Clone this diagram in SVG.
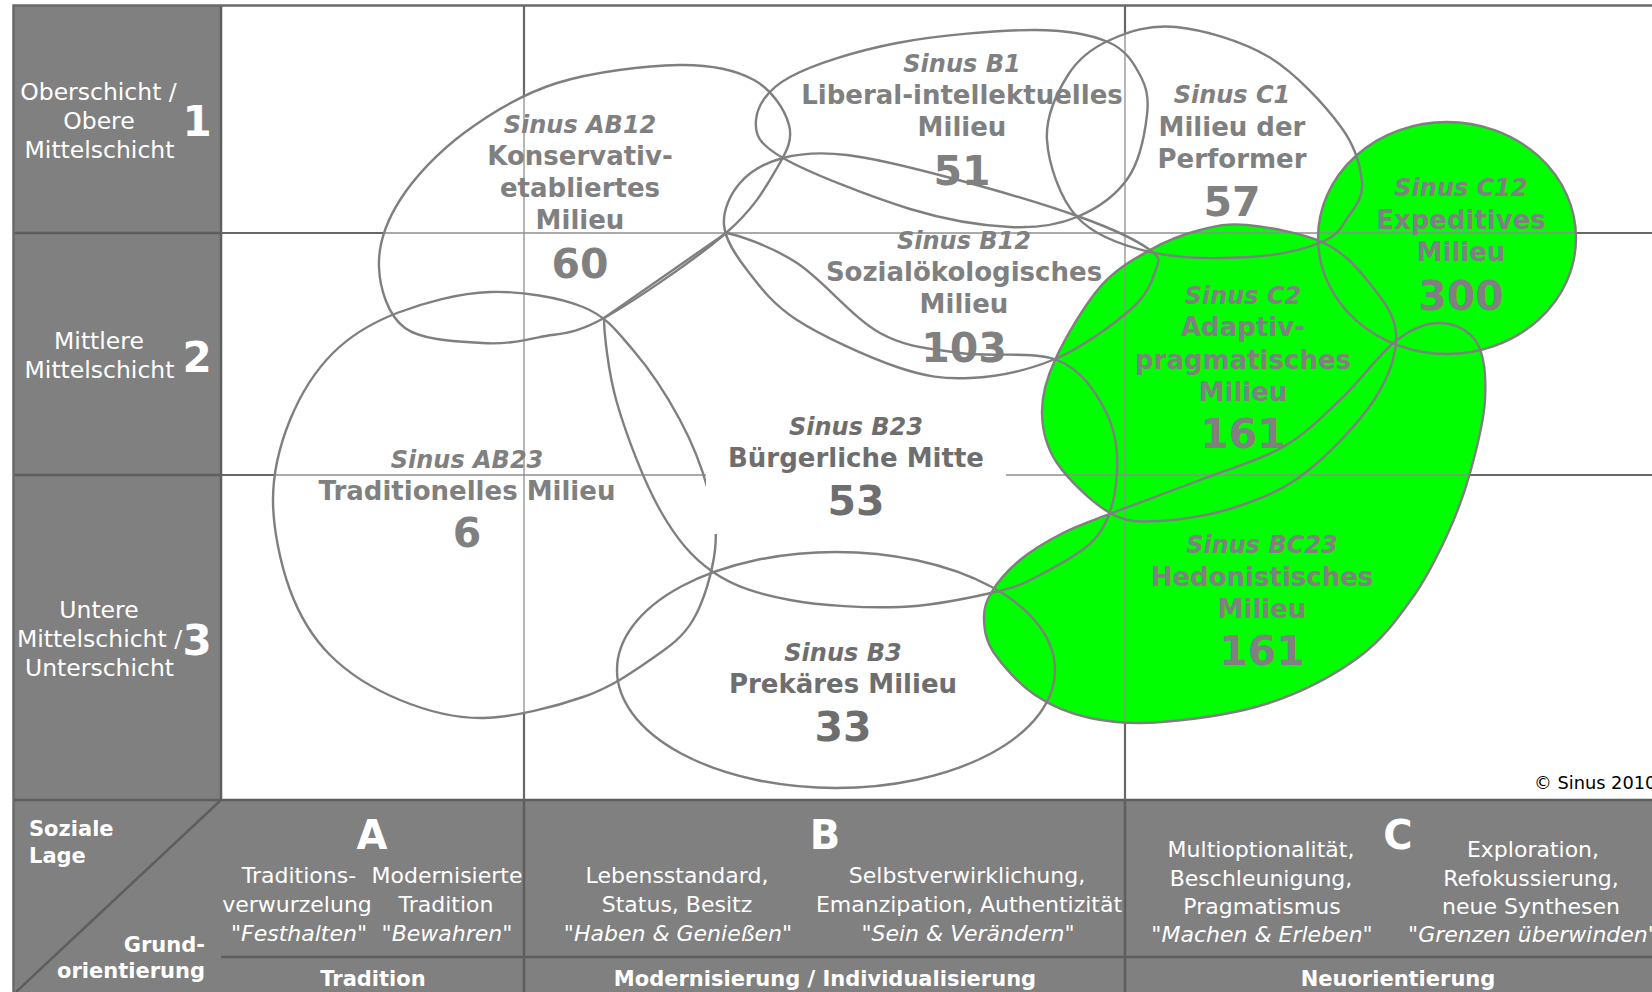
<svg xmlns="http://www.w3.org/2000/svg" width="1652" height="992" viewBox="0 0 1652 992">
<style>
.ol{fill:none;stroke:#7f7f7f;stroke-width:2.4}
.gf{fill:#00ff00;stroke:none}
.t{font-family:"DejaVu Sans",Verdana,sans-serif;text-anchor:middle}
.it{font-weight:bold;font-style:italic;font-size:24px;fill:#808080}
.nm{font-weight:bold;font-size:26px;fill:#808080}
.num{font-weight:bold;font-size:41px;fill:#808080}
.dk{fill:#6e6e6e}
.lbl{font-size:23.5px;fill:#fff}
.dig{font-weight:bold;font-size:42px;fill:#fff}
.bt{font-size:22px;fill:#fff}
.bi{font-size:22px;font-style:italic;fill:#fff}
.bb{font-size:21px;font-weight:bold;fill:#fff}
.let{font-size:40px;font-weight:bold;fill:#fff}
.gd{stroke:#676767;stroke-width:2.2;fill:none}
.ge{stroke:#fff;stroke-width:5;fill:none}
.gl{stroke:#8f8f8f;stroke-width:1.3;fill:none}
.pd{stroke:#5e5e5e;stroke-width:2.5;fill:none}
</style>
<defs>
<path id="gridpath" d="M221,233H1652M221,475H1652M524,5V800M1125,5V800"/>
<path id="p-ab12" d="M379,267 C378.2,245.7 385.8,222.3 400,200 C414.2,177.7 437.8,152.5 464,133 C490.2,113.5 521.2,94.3 557,83 C592.8,71.7 646.2,65.5 679,65 C711.8,64.5 735.7,70 754,80 C772.3,90 785.2,110.3 789,125 C792.8,139.7 787.5,150 777,168 C766.5,186 754.8,208 726,233 C697.2,258 635,300.7 604,318 C573,335.3 560.3,332.8 540,337 C519.7,341.2 504.5,344.5 482,343 C459.5,341.5 422.2,340.7 405,328 C387.8,315.3 379.8,288.3 379,267 Z"/>
<path id="p-b1" d="M756,120 C757.2,106.5 766.5,89.8 790,77 C813.5,64.2 856.5,50.8 897,43 C937.5,35.2 997.8,30.2 1033,30 C1068.2,29.8 1090.2,34.5 1108,42 C1125.8,49.5 1133.5,62.8 1140,75 C1146.5,87.2 1149,97.8 1147,115 C1145,132.2 1139.7,161 1128,178 C1116.3,195 1096.7,208.8 1077,217 C1057.3,225.2 1037.8,228.3 1010,227 C982.2,225.7 947.8,220.5 910,209 C872.2,197.5 808.7,172.8 783,158 C757.3,143.2 754.8,133.5 756,120 Z"/>
<path id="p-c1" d="M1176,27 C1202.5,29.8 1241.5,40.3 1269,57 C1296.5,73.7 1325.5,106 1341,127 C1356.5,148 1360.8,168 1362,183 C1363.2,198 1354.7,207.2 1348,217 C1341.3,226.8 1338.3,235.3 1322,242 C1305.7,248.7 1278.7,255.3 1250,257 C1221.3,258.7 1178.8,258.7 1150,252 C1121.2,245.3 1094.2,235.7 1077,217 C1059.8,198.3 1048.5,163.7 1047,140 C1045.5,116.3 1057.5,91.7 1068,75 C1078.5,58.3 1092,48 1110,40 C1128,32 1149.5,24.2 1176,27 Z"/>
<path id="p-b12" d="M724,225 C722.8,210.5 730.2,194.2 740,183 C749.8,171.8 765.2,162.7 783,158 C800.8,153.3 819.7,151.8 847,155 C874.3,158.2 908.2,166.7 947,177 C985.8,187.3 1046.2,204.8 1080,217 C1113.8,229.2 1137.5,240.8 1150,250 C1162.5,259.2 1158.3,262 1155,272 C1151.7,282 1146.7,295.5 1130,310 C1113.3,324.5 1081.7,347.7 1055,359 C1028.3,370.3 996.3,376.7 970,378 C943.7,379.3 925.8,376.7 897,367 C868.2,357.3 822,336.2 797,320 C772,303.8 759.2,285.8 747,270 C734.8,254.2 725.2,239.5 724,225 Z"/>
<path id="p-ab23" d="M490,292 C521,291 559.2,297.3 583,307 C606.8,316.7 616.8,331.2 633,350 C649.2,368.8 667.5,396.7 680,420 C692.5,443.3 702.2,468.3 708,490 C713.8,511.7 717.5,528.3 715,550 C712.5,571.7 703.8,601.7 693,620 C682.2,638.3 668.3,647.2 650,660 C631.7,672.8 610.8,687.3 583,697 C555.2,706.7 513.5,717.5 483,718 C452.5,718.5 425.5,710.5 400,700 C374.5,689.5 348.3,673.3 330,655 C311.7,636.7 299.5,615.8 290,590 C280.5,564.2 273,528.3 273,500 C273,471.7 280,444.5 290,420 C300,395.5 315.2,370.8 333,353 C350.8,335.2 370.8,323.2 397,313 C423.2,302.8 459,293 490,292 Z"/>
<path id="p-b23" d="M604,318 L726,233 C738,235 771.3,246.3 797,263 C822.7,279.7 852.8,318 880,333 C907.2,348 930.5,348.5 960,353 C989.5,357.5 1032.8,350.5 1057,360 C1081.2,369.5 1095,391.2 1105,410 C1115,428.8 1118.2,452.2 1117,473 C1115.8,493.8 1110.8,518 1098,535 C1085.2,552 1057.8,565.3 1040,575 C1022.2,584.7 1014.3,587.7 991,593 C967.7,598.3 933.5,605.8 900,607 C866.5,608.2 821.2,605.8 790,600 C758.8,594.2 734.7,587 713,572 C691.3,557 676,538.2 660,510 C644,481.8 626.3,435 617,403 C607.7,371 604,330 604,318 Z"/>
<path id="p-c2" d="M1200,230 C1216.2,225.8 1226.7,223 1247,225 C1267.3,227 1302,232.8 1322,242 C1342,251.2 1354.7,264.8 1367,280 C1379.3,295.2 1394.8,313 1396,333 C1397.2,353 1389.2,376.7 1374,400 C1358.8,423.3 1328,455.2 1305,473 C1282,490.8 1260.2,499 1236,507 C1211.8,515 1181,520 1160,521 C1139,522 1127.2,522.7 1110,513 C1092.8,503.3 1068.3,479.7 1057,463 C1045.7,446.3 1042.3,430.2 1042,413 C1041.7,395.8 1045.3,381 1055,360 C1064.7,339 1084.2,305.3 1100,287 C1115.8,268.7 1133.3,259.5 1150,250 C1166.7,240.5 1183.8,234.2 1200,230 Z"/>
<path id="p-bc23" d="M991,593 C997,583 1008,570 1020,560 C1032,550 1047.7,540.8 1063,533 C1078.3,525.2 1089.2,521.8 1112,513 C1134.8,504.2 1171.5,491 1200,480 C1228.5,469 1259.7,460.3 1283,447 C1306.3,433.7 1321,417.8 1340,400 C1359,382.2 1380.2,352.8 1397,340 C1413.8,327.2 1427.7,322.5 1441,323 C1454.3,323.5 1469.7,330.2 1477,343 C1484.3,355.8 1486.2,378.3 1485,400 C1483.8,421.7 1476.2,450.8 1470,473 C1463.8,495.2 1457.5,512.3 1448,533 C1438.5,553.7 1427.8,576.3 1413,597 C1398.2,617.7 1383,639.3 1359,657 C1335,674.7 1301.8,692.2 1269,703 C1236.2,713.8 1191.8,719.5 1162,722 C1132.2,724.5 1111.2,722.5 1090,718 C1068.8,713.5 1051,705.8 1035,695 C1019,684.2 1002.5,665.5 994,653 C985.5,640.5 984.5,630 984,620 C983.5,610 985,603 991,593 Z"/>
<ellipse id="p-b3" cx="836" cy="670" rx="219" ry="118"/>
<ellipse id="p-c12" cx="1447" cy="238" rx="129" ry="116"/>
<clipPath id="clip-shapes">
<use href="#p-ab12"/><use href="#p-b1"/><use href="#p-c1"/><use href="#p-b12"/><use href="#p-ab23"/><use href="#p-b23"/><use href="#p-c2"/><use href="#p-bc23"/><use href="#p-b3"/><use href="#p-c12"/>
</clipPath>
</defs>

<g id="frame">
<rect x="13" y="5" width="1639" height="795" fill="#fff"/>
<rect x="13" y="5" width="208" height="795" fill="#808080"/>
<rect x="13" y="800" width="1639" height="192" fill="#808080"/>
<path class="pd" d="M13,233H221M13,475H221M221,5V800"/>
<path class="pd" d="M13,800H1652M524,800V992M1125,800V992M221,957H1652M221,800L16,992"/>
<path d="M13.5,992V5.5H1652" fill="none" stroke="#6a6a6a" stroke-width="2.5"/>
</g>

<g id="grid">
<use href="#gridpath" class="gd"/>
<g clip-path="url(#clip-shapes)"><use href="#gridpath" class="ge"/></g>
</g>

<g id="green-fills">
<use href="#p-c12" class="gf"/>
<use href="#p-c2" class="gf"/>
<use href="#p-bc23" class="gf"/>
</g>

<g id="grid-light" clip-path="url(#clip-shapes)"><use href="#gridpath" class="gl"/></g>

<g id="row-labels" class="t">
<text class="lbl" x="98.5" y="100">Oberschicht /</text>
<text class="lbl" x="99" y="129">Obere</text>
<text class="lbl" x="99.5" y="158">Mittelschicht</text>
<text class="dig" x="197" y="136">1</text>
<text class="lbl" x="99" y="349">Mittlere</text>
<text class="lbl" x="99.5" y="378">Mittelschicht</text>
<text class="dig" x="197" y="372">2</text>
<text class="lbl" x="99" y="618">Untere</text>
<text class="lbl" x="99.5" y="647">Mittelschicht /</text>
<text class="lbl" x="99.5" y="676">Unterschicht</text>
<text class="dig" x="197" y="655">3</text>
</g>

<g id="node-ab12" class="t">
<use href="#p-ab12" class="ol"/>
<text class="it" x="580" y="133">Sinus AB12</text>
<text class="nm" x="580" y="165">Konservativ-</text>
<text class="nm" x="580" y="197">etabliertes</text>
<text class="nm" x="580" y="229">Milieu</text>
<text class="num" x="580" y="278">60</text>
</g>

<g id="node-b1" class="t">
<use href="#p-b1" class="ol"/>
<text class="it" x="962" y="72">Sinus B1</text>
<text class="nm" x="962" y="104">Liberal-intellektuelles</text>
<text class="nm" x="962" y="136">Milieu</text>
<text class="num" x="962" y="185">51</text>
</g>

<g id="node-c1" class="t">
<use href="#p-c1" class="ol"/>
<text class="it" x="1232" y="103">Sinus C1</text>
<text class="nm" x="1232" y="136">Milieu der</text>
<text class="nm" x="1232" y="168">Performer</text>
<text class="num" x="1232" y="216">57</text>
</g>

<g id="node-b12" class="t">
<use href="#p-b12" class="ol"/>
<text class="it" x="964" y="249">Sinus B12</text>
<text class="nm" x="964" y="281">Sozialökologisches</text>
<text class="nm" x="964" y="313">Milieu</text>
<text class="num" x="964" y="362">103</text>
</g>

<g id="node-ab23" class="t">
<use href="#p-ab23" class="ol"/>
<text class="it" x="467" y="468">Sinus AB23</text>
<text class="nm" x="467" y="500">Traditionelles Milieu</text>
<text class="num" x="467" y="547">6</text>
</g>

<g id="node-c12" class="t">
<use href="#p-c12" class="ol"/>
<text class="it" x="1461" y="196">Sinus C12</text>
<text class="nm" x="1461" y="229">Expeditives</text>
<text class="nm" x="1461" y="261">Milieu</text>
<text class="num" x="1461" y="310">300</text>
</g>

<g id="node-c2" class="t">
<use href="#p-c2" class="ol"/>
<text class="it" x="1243" y="304">Sinus C2</text>
<text class="nm" x="1243" y="336">Adaptiv-</text>
<text class="nm" x="1243" y="369">pragmatisches</text>
<text class="nm" x="1243" y="401">Milieu</text>
<text class="num" x="1243" y="448">161</text>
</g>

<g id="node-bc23" class="t">
<use href="#p-bc23" class="ol"/>
<text class="it" x="1262" y="553">Sinus BC23</text>
<text class="nm" x="1262" y="586">Hedonistisches</text>
<text class="nm" x="1262" y="618">Milieu</text>
<text class="num" x="1262" y="665">161</text>
</g>

<g id="node-b3" class="t">
<use href="#p-b3" class="ol"/>
<text class="it dk" x="843" y="661">Sinus B3</text>
<text class="nm dk" x="843" y="693">Prekäres Milieu</text>
<text class="num dk" x="843" y="741">33</text>
</g>

<g id="node-b23" class="t">
<rect x="706" y="405" width="300" height="129" fill="#fff"/>
<use href="#p-b23" class="ol"/>
<text class="it dk" x="856" y="435">Sinus B23</text>
<text class="nm dk" x="856" y="467">Bürgerliche Mitte</text>
<text class="num dk" x="856" y="515">53</text>
</g>

<text x="1534" y="789" font-family="DejaVu Sans, sans-serif" font-size="17.8" fill="#000">© Sinus 2010</text>

<g id="axis-panel" class="t">
<text class="bb" x="29" y="836" text-anchor="start">Soziale</text>
<text class="bb" x="29" y="863" text-anchor="start">Lage</text>
<text class="bb" x="205" y="952" text-anchor="end">Grund-</text>
<text class="bb" x="205" y="978" text-anchor="end">orientierung</text>
<text class="let" x="372" y="849">A</text>
<text class="bt" x="299" y="883">Traditions-</text>
<text class="bt" x="447" y="883">Modernisierte</text>
<text class="bt" x="297" y="912">verwurzelung</text>
<text class="bt" x="446" y="912">Tradition</text>
<text class="bi" x="299" y="941">"Festhalten"</text>
<text class="bi" x="447" y="941">"Bewahren"</text>
<text class="bb" x="373" y="986">Tradition</text>
<text class="let" x="825" y="849">B</text>
<text class="bt" x="677" y="883">Lebensstandard,</text>
<text class="bt" x="677" y="912">Status, Besitz</text>
<text class="bi" x="678" y="941">"Haben &amp; Genießen"</text>
<text class="bt" x="967" y="883">Selbstverwirklichung,</text>
<text class="bt" x="969" y="912">Emanzipation, Authentizität</text>
<text class="bi" x="968" y="941">"Sein &amp; Verändern"</text>
<text class="bb" x="825" y="986">Modernisierung / Individualisierung</text>
<text class="let" x="1398" y="849">C</text>
<text class="bt" x="1261" y="857">Multioptionalität,</text>
<text class="bt" x="1261" y="886">Beschleunigung,</text>
<text class="bt" x="1262" y="914">Pragmatismus</text>
<text class="bi" x="1262" y="942">"Machen &amp; Erleben"</text>
<text class="bt" x="1533" y="857">Exploration,</text>
<text class="bt" x="1531" y="886">Refokussierung,</text>
<text class="bt" x="1531" y="914">neue Synthesen</text>
<text class="bi" x="1533" y="942">"Grenzen überwinden"</text>
<text class="bb" x="1398" y="986">Neuorientierung</text>
</g>
</svg>
